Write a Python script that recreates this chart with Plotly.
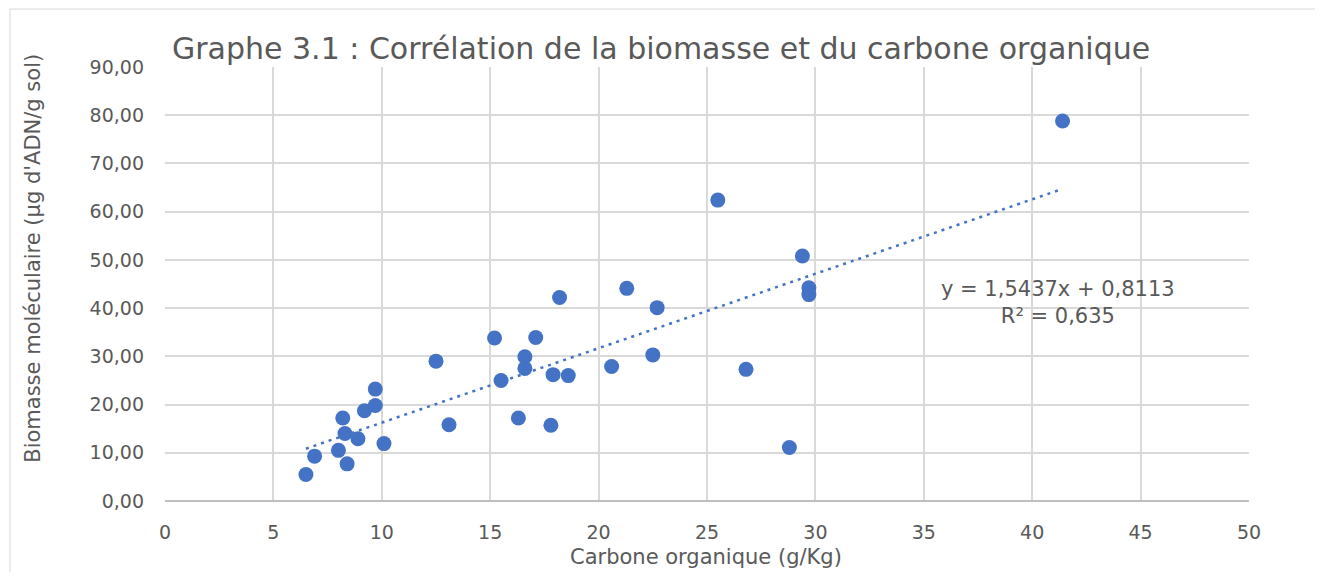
import plotly.graph_objects as go

# données
carbone = [6.5, 6.9, 8.0, 8.4, 8.3, 8.2, 8.9, 9.2, 9.7, 9.7, 10.1, 12.5, 13.1,
           15.2, 15.5, 16.3, 16.6, 16.6, 17.1, 17.8, 17.9, 18.6, 18.2, 20.6,
           22.5, 22.7, 21.3, 25.5, 26.8, 28.8, 29.4, 29.7, 29.7, 41.4]
biomasse = [5.5, 9.3, 10.5, 7.7, 14.0, 17.2, 12.9, 18.7, 19.8, 23.2, 11.9, 29.0, 15.8,
            33.8, 25.0, 17.2, 29.9, 27.5, 33.9, 15.7, 26.2, 26.0, 42.2, 27.9,
            30.3, 40.1, 44.1, 62.4, 27.3, 11.1, 50.8, 44.2, 42.8, 78.8]

# courbe de tendance (équation affichée sur le graphe)
pente = 1.5437
origine = 0.8113
r2 = 0.635
x_tend = [min(carbone), max(carbone)]
y_tend = [pente * x + origine for x in x_tend]

x_ticks = [0, 5, 10, 15, 20, 25, 30, 35, 40, 45, 50]
y_ticks = [0, 10, 20, 30, 40, 50, 60, 70, 80, 90]

police = "DejaVu Sans"
gris = "#595959"
bleu = "#4472C4"

fig = go.Figure()

fig.add_trace(go.Scatter(
    x=x_tend, y=y_tend, mode="lines",
    line=dict(color=bleu, width=2.5, dash="3px,5px"),
    hoverinfo="skip", showlegend=False
))

fig.add_trace(go.Scatter(
    x=carbone, y=biomasse, mode="markers",
    marker=dict(color=bleu, size=15),
    showlegend=False
))

fig.add_annotation(
    x=41.2, y=41.2, xref="x", yref="y",
    text="y = 1,5437x + 0,8113<br>R² = 0,635",
    showarrow=False, align="center",
    font=dict(family=police, size=21, color=gris)
)

fig.add_annotation(
    x=0.0046, y=1.0437, xref="paper", yref="paper",
    xanchor="left", yanchor="middle",
    text="Graphe 3.1 : Corrélation de la biomasse et du carbone organique",
    showarrow=False,
    font=dict(family=police, size=30, color=gris)
)

# titres des axes
fig.add_annotation(
    x=-0.1218, y=0.5604, xref="paper", yref="paper",
    xanchor="center", yanchor="middle",
    text="Biomasse moléculaire (µg d'ADN/g sol)",
    textangle=-90, showarrow=False,
    font=dict(family=police, size=21, color=gris)
)
fig.add_annotation(
    x=0.499, y=-0.129, xref="paper", yref="paper",
    xanchor="center", yanchor="middle",
    text="Carbone organique (g/Kg)",
    showarrow=False,
    font=dict(family=police, size=21, color=gris)
)

# cadre extérieur
fig.add_shape(
    type="rect", xref="paper", yref="paper",
    x0=-0.143, x1=1.0637, y0=-0.21, y1=1.1335,
    line=dict(color="#d9d9d9", width=1)
)

fig.update_xaxes(
    range=[0, 50], tickvals=x_ticks, automargin=False,
    showgrid=True, gridcolor="#d9d9d9", gridwidth=1.5,
    zeroline=False, showline=False,
    tickfont=dict(family=police, size=19, color=gris),
    ticklabelstandoff=18,
)
fig.update_yaxes(
    range=[0, 90], tickvals=y_ticks, tickformat=".2f", automargin=False,
    showgrid=True, gridcolor="#d9d9d9", gridwidth=1.5,
    zeroline=True, zerolinecolor="#bfbfbf", zerolinewidth=1.5,
    showline=False,
    tickfont=dict(family=police, size=19, color=gris),
    ticklabelstandoff=20,
)

# la page ajoute 8 px de marge autour de la figure
fig.update_layout(
    width=1307, height=564,
    margin=dict(l=157, r=66, t=59, b=70.5),
    plot_bgcolor="white", paper_bgcolor="white",
    separators=", ",
)

fig.write_html("out.html")
